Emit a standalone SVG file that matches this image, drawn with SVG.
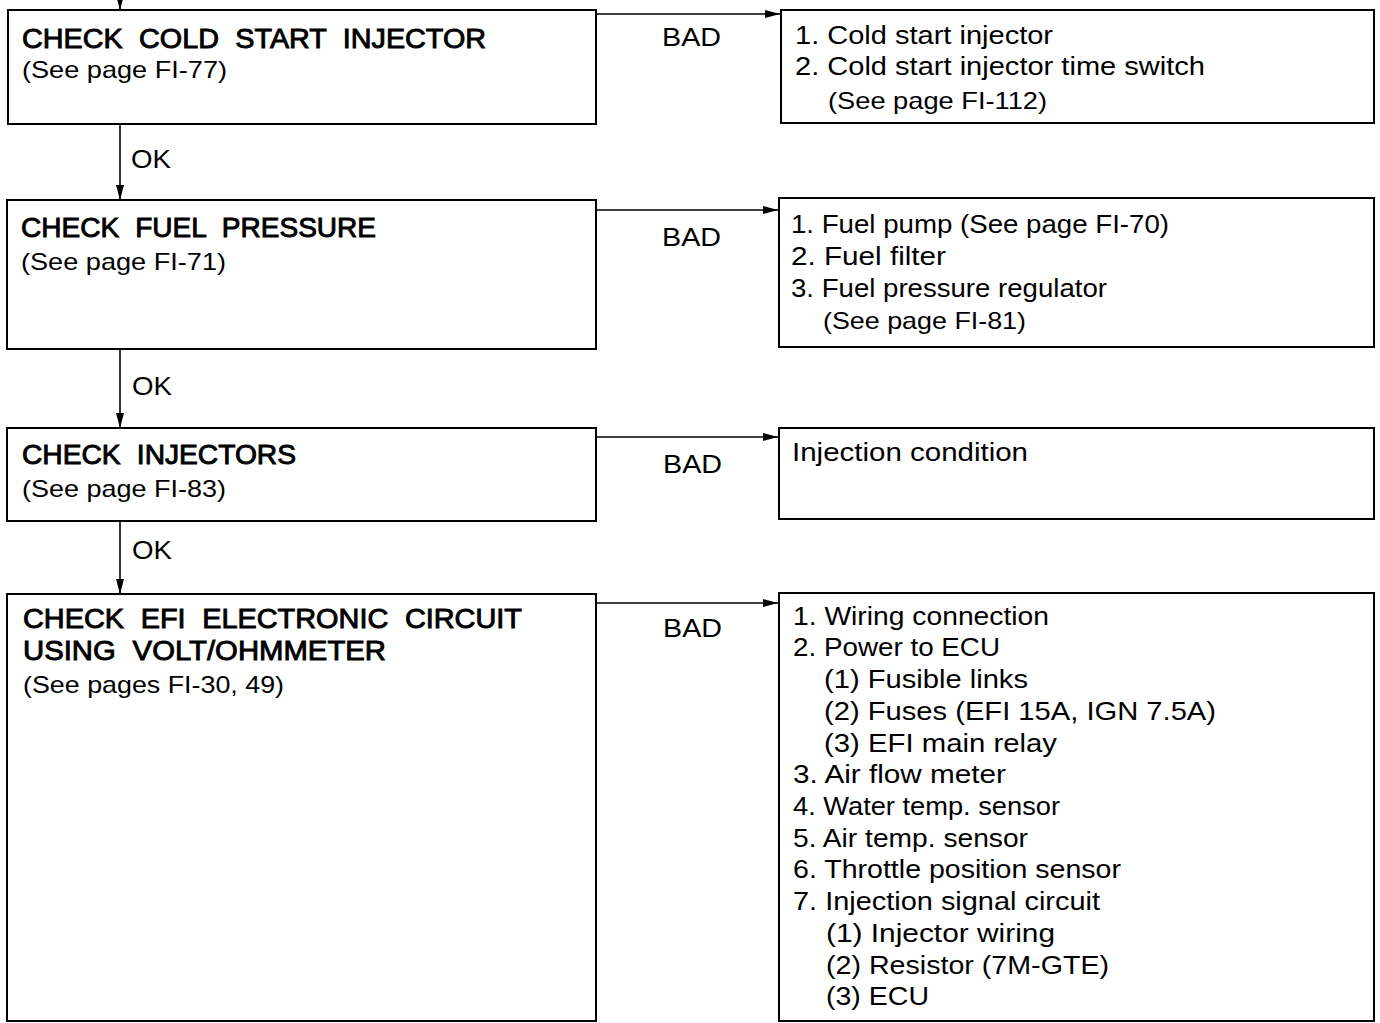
<svg xmlns="http://www.w3.org/2000/svg" width="1380" height="1023" viewBox="0 0 1380 1023">
<defs>
<marker id="ah" markerWidth="15" markerHeight="10" refX="15" refY="5" orient="auto" markerUnits="userSpaceOnUse">
<path d="M0,1 L15,5 L0,9 Z" fill="#000"/>
</marker>
<style>
.box{fill:#fff;stroke:#000;stroke-width:2}
.ln{fill:none;stroke:#000;stroke-width:1.6}
text{font-family:"Liberation Sans",Arial,sans-serif;fill:#000}
.h{font-size:27px;stroke:#000;stroke-width:0.9;word-spacing:8px}
.b{font-size:24px}
.l{font-size:26px}
.r{font-size:25px}
</style>
</defs>
<rect width="1380" height="1023" fill="#fff"/>
<g id="connectors">
<line class="ln" x1="120" y1="0" x2="120" y2="10" marker-end="url(#ah)"/>
<line class="ln" x1="120" y1="124" x2="120" y2="200" marker-end="url(#ah)"/>
<line class="ln" x1="120" y1="349" x2="120" y2="428" marker-end="url(#ah)"/>
<line class="ln" x1="120" y1="521" x2="120" y2="594" marker-end="url(#ah)"/>
<line class="ln" x1="596" y1="14" x2="780" y2="14" marker-end="url(#ah)"/>
<line class="ln" x1="596" y1="210" x2="778" y2="210" marker-end="url(#ah)"/>
<line class="ln" x1="596" y1="437" x2="778" y2="437" marker-end="url(#ah)"/>
<line class="ln" x1="596" y1="603" x2="778" y2="603" marker-end="url(#ah)"/>
<text class="l" x="131" y="168" textLength="40" lengthAdjust="spacingAndGlyphs">OK</text>
<text class="l" x="132" y="395" textLength="40" lengthAdjust="spacingAndGlyphs">OK</text>
<text class="l" x="132" y="559" textLength="40" lengthAdjust="spacingAndGlyphs">OK</text>
<text class="l" x="662" y="46" textLength="59" lengthAdjust="spacingAndGlyphs">BAD</text>
<text class="l" x="662" y="246" textLength="59" lengthAdjust="spacingAndGlyphs">BAD</text>
<text class="l" x="663" y="473" textLength="59" lengthAdjust="spacingAndGlyphs">BAD</text>
<text class="l" x="663" y="637" textLength="59" lengthAdjust="spacingAndGlyphs">BAD</text>
</g>
<g id="check-cold-start">
<rect class="box" x="8" y="10" width="588" height="114"/>
<text class="h" x="22" y="48" textLength="464" lengthAdjust="spacingAndGlyphs">CHECK COLD START INJECTOR</text>
<text class="b" x="22" y="78" textLength="205" lengthAdjust="spacingAndGlyphs">(See page FI-77)</text>
</g>
<g id="bad-cold-start">
<rect class="box" x="781" y="10" width="593" height="113"/>
<text class="l" x="795" y="44" textLength="258" lengthAdjust="spacingAndGlyphs">1. Cold start injector</text>
<text class="l" x="795" y="75" textLength="410" lengthAdjust="spacingAndGlyphs">2. Cold start injector time switch</text>
<text class="b" x="828" y="109" textLength="219" lengthAdjust="spacingAndGlyphs">(See page FI-112)</text>
</g>
<g id="check-fuel-pressure">
<rect class="box" x="7" y="200" width="589" height="149"/>
<text class="h" x="21" y="237" textLength="355" lengthAdjust="spacingAndGlyphs">CHECK FUEL PRESSURE</text>
<text class="b" x="21" y="270" textLength="205" lengthAdjust="spacingAndGlyphs">(See page FI-71)</text>
</g>
<g id="bad-fuel-pressure">
<rect class="box" x="779" y="198" width="595" height="149"/>
<text class="l" x="791" y="233" textLength="378" lengthAdjust="spacingAndGlyphs">1. Fuel pump (See page FI-70)</text>
<text class="l" x="791" y="265" textLength="155" lengthAdjust="spacingAndGlyphs">2. Fuel filter</text>
<text class="l" x="791" y="297" textLength="316" lengthAdjust="spacingAndGlyphs">3. Fuel pressure regulator</text>
<text class="b" x="823" y="329" textLength="203" lengthAdjust="spacingAndGlyphs">(See page FI-81)</text>
</g>
<g id="check-injectors">
<rect class="box" x="7" y="428" width="589" height="93"/>
<text class="h" x="22" y="464" textLength="274" lengthAdjust="spacingAndGlyphs">CHECK INJECTORS</text>
<text class="b" x="22" y="497" textLength="204" lengthAdjust="spacingAndGlyphs">(See page FI-83)</text>
</g>
<g id="bad-injectors">
<rect class="box" x="779" y="428" width="595" height="91"/>
<text class="l" x="792" y="461" textLength="236" lengthAdjust="spacingAndGlyphs">Injection condition</text>
</g>
<g id="check-efi-circuit">
<rect class="box" x="7" y="594" width="589" height="427"/>
<text class="h" x="23" y="628" textLength="499" lengthAdjust="spacingAndGlyphs">CHECK EFI ELECTRONIC CIRCUIT</text>
<text class="h" x="23" y="660" textLength="363" lengthAdjust="spacingAndGlyphs">USING VOLT/OHMMETER</text>
<text class="b" x="23" y="693" textLength="261" lengthAdjust="spacingAndGlyphs">(See pages FI-30, 49)</text>
</g>
<g id="bad-efi-circuit">
<rect class="box" x="779" y="593" width="595" height="428"/>
<text class="r" x="793" y="625" textLength="256" lengthAdjust="spacingAndGlyphs">1. Wiring connection</text>
<text class="r" x="793" y="656" textLength="207" lengthAdjust="spacingAndGlyphs">2. Power to ECU</text>
<text class="r" x="824" y="688" textLength="204" lengthAdjust="spacingAndGlyphs">(1) Fusible links</text>
<text class="r" x="824" y="720" textLength="392" lengthAdjust="spacingAndGlyphs">(2) Fuses (EFI 15A, IGN 7.5A)</text>
<text class="r" x="824" y="752" textLength="233" lengthAdjust="spacingAndGlyphs">(3) EFI main relay</text>
<text class="r" x="793" y="783" textLength="213" lengthAdjust="spacingAndGlyphs">3. Air flow meter</text>
<text class="r" x="793" y="815" textLength="267" lengthAdjust="spacingAndGlyphs">4. Water temp. sensor</text>
<text class="r" x="793" y="847" textLength="235" lengthAdjust="spacingAndGlyphs">5. Air temp. sensor</text>
<text class="r" x="793" y="878" textLength="328" lengthAdjust="spacingAndGlyphs">6. Throttle position sensor</text>
<text class="r" x="793" y="910" textLength="307" lengthAdjust="spacingAndGlyphs">7. Injection signal circuit</text>
<text class="r" x="826" y="942" textLength="229" lengthAdjust="spacingAndGlyphs">(1) Injector wiring</text>
<text class="r" x="826" y="974" textLength="283" lengthAdjust="spacingAndGlyphs">(2) Resistor (7M-GTE)</text>
<text class="r" x="826" y="1005" textLength="103" lengthAdjust="spacingAndGlyphs">(3) ECU</text>
</g>
</svg>
